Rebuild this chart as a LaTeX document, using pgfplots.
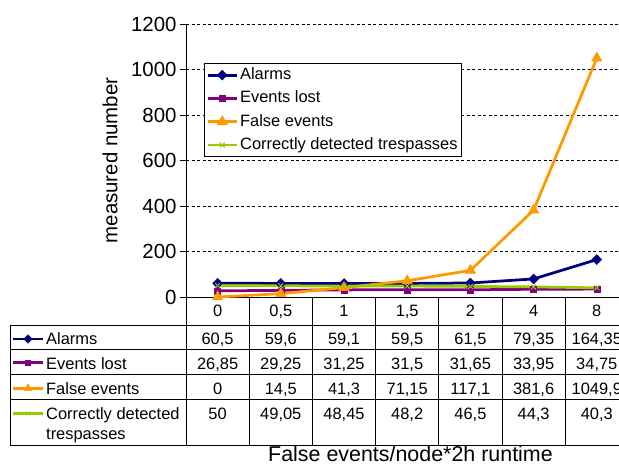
\documentclass[border=0pt]{standalone}
\usepackage{fontspec}
\setmainfont{Liberation Sans}
\usepackage{pgfplots}
\pgfplotsset{compat=1.18}

\definecolor{alarm}{RGB}{0,0,128}
\definecolor{lost}{RGB}{128,0,128}
\definecolor{falseev}{RGB}{255,153,0}
\definecolor{correct}{RGB}{153,204,0}

\newcommand{\fs}[1]{\fontsize{#1}{#1}\selectfont}

\tikzset{
  alarmsty/.style={color=alarm, line width=2.75bp, mark=square*, mark size=3.5bp,
    mark options={rotate=45, solid, line width=0.5bp}},
  loststy/.style={color=lost, line width=2.75bp, mark=square*, mark size=3bp,
    mark options={solid, line width=0.5bp}},
  falsesty/.style={color=falseev, line width=2.75bp, mark=triangle*, mark size=6bp,
    mark options={solid, line width=0.5bp}},
  correctsty/.style={color=correct, line width=2.75bp, mark=x, mark size=3.5bp,
    mark options={solid, line width=1bp}},
}

\begin{document}
\begin{tikzpicture}[x=1bp,y=1bp]
\useasboundingbox (0,0) rectangle (619,465);
\clip (0,0) rectangle (619,465);

\begin{axis}[
  at={(186bp,168bp)}, anchor=south west,
  scale only axis, width=442.4bp, height=273bp,
  xmin=-0.5, xmax=6.5, ymin=0, ymax=1200,
  axis lines=left, axis line style={-, line width=0.9bp},
  xtick=\empty,
  ytick={0,200,...,1200},
  tick align=outside, major tick length=6bp,
  ytick style={black, line width=0.9bp},
  ymajorgrids,
  grid style={black, line width=0.7bp, dash pattern=on 3bp off 2.5bp},
  yticklabel style={font=\fs{20.5}},
  /pgf/number format/assume math mode=true,
  /pgf/number format/1000 sep={},
  clip=false,
  legend cell align=left,
  legend style={at={(rel axis cs:0.0407,0.857)}, anchor=north west,
    draw=black, line width=0.75bp, font=\fs{16.5}, inner sep=2bp,
    row sep=3.8bp,
    nodes={text height=12bp, text depth=3.5bp, inner sep=2bp}},
  legend image code/.code={
    \draw[mark repeat=2, mark phase=2, #1] plot coordinates {(0bp,0bp) (14.5bp,0bp) (29bp,0bp)};
  },
]
\addplot[alarmsty] coordinates {(0,60.5) (1,59.6) (2,59.1) (3,59.5) (4,61.5) (5,79.35) (6,164.35)};
\addlegendentry{Alarms}
\addplot[loststy] coordinates {(0,26.85) (1,29.25) (2,31.25) (3,31.5) (4,31.65) (5,33.95) (6,34.75)};
\addlegendentry{Events lost}
\addplot[falsesty] coordinates {(0,0) (1,14.5) (2,41.3) (3,71.15) (4,117.1) (5,381.6) (6,1049.9)};
\addlegendentry{False events}
\addplot[correctsty] coordinates {(0,50) (1,49.05) (2,48.45) (3,48.2) (4,46.5) (5,44.3) (6,40.3)};
\addlegendentry{Correctly detected trespasses}
\end{axis}

% data table below the plot
\draw[line width=0.8bp] (10,140) -- (629,140);
\draw[line width=0.8bp] (10,116) -- (629,116);
\draw[line width=0.8bp] (10,91) -- (629,91);
\draw[line width=0.8bp] (10,66) -- (629,66);
\draw[line width=0.8bp] (10,20) -- (629,20);
\draw[line width=0.8bp] (10,140) -- (10,20);
\draw[line width=0.8bp] (186,168) -- (186,20);
\foreach \i in {1,...,6} \draw[line width=0.8bp] ({186+63.2*\i},168) -- ({186+63.2*\i},20);

\begin{scope}[font=\fs{16.5}]
\foreach \v [count=\i from 0] in {0,{0,5},1,{1,5},2,4,8}
  \node[anchor=base, inner sep=0] at ({217.6+63.2*\i},148.7) {\v};
\foreach \v [count=\i from 0] in {{60,5},{59,6},{59,1},{59,5},{61,5},{79,35},{164,35}}
  \node[anchor=base, inner sep=0] at ({217.6+63.2*\i},120.7) {\v};
\foreach \v [count=\i from 0] in {{26,85},{29,25},{31,25},{31,5},{31,65},{33,95},{34,75}}
  \node[anchor=base, inner sep=0] at ({217.6+63.2*\i},95.7) {\v};
\foreach \v [count=\i from 0] in {0,{14,5},{41,3},{71,15},{117,1},{381,6},{1049,9}}
  \node[anchor=base, inner sep=0] at ({217.6+63.2*\i},70.7) {\v};
\foreach \v [count=\i from 0] in {50,{49,05},{48,45},{48,2},{46,5},{44,3},{40,3}}
  \node[anchor=base, inner sep=0] at ({217.6+63.2*\i},45.7) {\v};

\draw[alarmsty, mark repeat=2, mark phase=2, mark size=3bp] plot coordinates {(13,126) (28,126) (43,126)};
\draw[loststy, mark repeat=2, mark phase=2, mark size=2.5bp] plot coordinates {(13,102.3) (28,102.3) (43,102.3)};
\draw[falsesty, mark repeat=2, mark phase=2, mark size=4.5bp] plot coordinates {(13,76.7) (28,76.7) (43,76.7)};
\draw[correctsty, mark repeat=2, mark phase=2, mark size=2.5bp] plot coordinates {(13,51.7) (28,51.7) (43,51.7)};

\node[anchor=base west, inner sep=0] at (46,120.7) {Alarms};
\node[anchor=base west, inner sep=0] at (46,95.7) {Events lost};
\node[anchor=base west, inner sep=0] at (46,70.7) {False events};
\node[anchor=base west, inner sep=0] at (46,45.7) {Correctly detected};
\node[anchor=base west, inner sep=0] at (46,25.7) {trespasses};
\end{scope}

\node[rotate=90, font=\fs{20.5}] at (110,304.5) {measured number};
\node[anchor=base, inner sep=0, font=\fs{21.5}] at (410.5,3) {False events/node*2h runtime};
\end{tikzpicture}
\end{document}
